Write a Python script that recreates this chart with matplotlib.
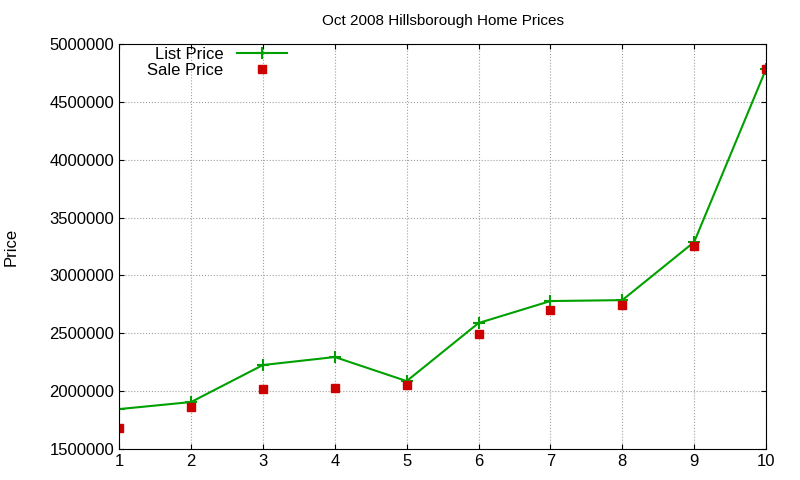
import matplotlib
matplotlib.use("Agg")
import matplotlib.pyplot as plt
from matplotlib.ticker import FuncFormatter

plt.rcParams['font.family'] = ['Liberation Sans', 'DejaVu Sans']

x = [1, 2, 3, 4, 5, 6, 7, 8, 9, 10]
list_price = [1845000, 1906000, 2226000, 2295000, 2087000, 2589000, 2779000, 2787000, 3289000, 4784000]
sale_price = [1681000, 1863000, 2018000, 2027000, 2053000, 2494000, 2701000, 2744000, 3254000, 4784000]

fig = plt.figure(figsize=(8, 4.8), dpi=100)
ax = fig.add_axes([0.149, 0.0646, 0.8085, 0.8434])
ax.plot(x, list_price, color="#00a000", lw=1.5, marker="+", ms=8, mew=1.5, label="List Price")
ax.plot(x, sale_price, ls="none", marker="s", color="#cc0000", ms=6, label="Sale Price")
ax.set_xlim(1, 10)
ax.set_ylim(1500000, 5000000)
ax.set_xticks(x)
ax.set_yticks(range(1500000, 5000001, 500000))
ax.yaxis.set_major_formatter(FuncFormatter(lambda v, p: "%d" % v))
ax.grid(True, color="#a0a0a0", ls=":", lw=0.8)
ax.tick_params(direction="in", labelsize=12, top=True, right=True)
ax.set_ylabel("Price", fontsize=12, labelpad=22)
ax.set_title("Oct 2008 Hillsborough Home Prices", fontsize=11, pad=14)
leg = ax.legend(loc="upper left", frameon=False, markerfirst=False, fontsize=12,
                bbox_to_anchor=(0.02, 1.03), handlelength=3, labelspacing=0.05)
for t in leg.get_texts():
    t.set_ha("right")
leg._legend_box.align = "right"
fig.savefig("out.png")
